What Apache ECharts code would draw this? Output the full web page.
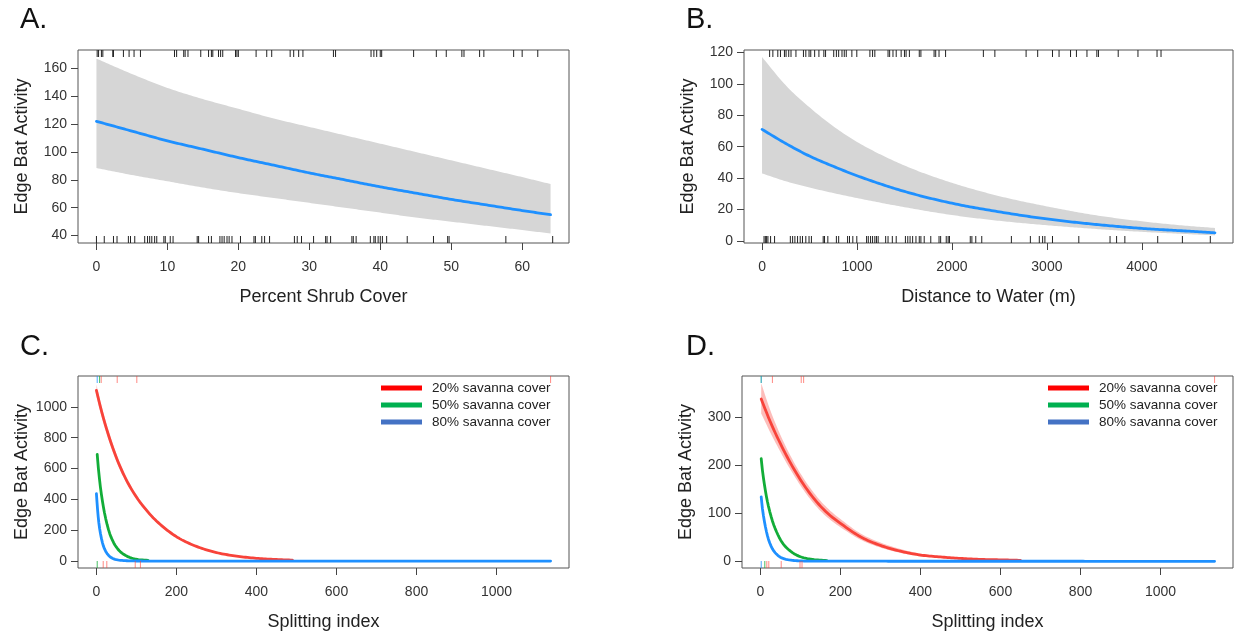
<!DOCTYPE html>
<html>
<head>
<meta charset="utf-8">
<script src="https://cdn.jsdelivr.net/npm/echarts@6/dist/echarts.min.js"></script>
<style>
html,body{margin:0;padding:0;background:#fff;}
#chart{width:1238px;height:638px;}
</style>
</head>
<body>
<div id="chart"></div>
<script>
// ---------- Panel A: Percent Shrub Cover ----------
const aX = [0,5,10,15,20,25,30,35,40,45,50,55,60,64];
const aFit = [122,115,108,102,96,90.5,85,80,75,70.5,66,62,58,55];
const aUpper = [167,156,146,138,131,124,118,112,106,100,94,88,82,77];
const aLower = [88.5,83.5,79,74.5,70.5,67,63.5,60,56.5,53,50,47,44,41.5];
const aRugTop = [0.1,0.3,0.7,0.9,2.3,2.4,3.8,4.6,5.3,6.2,11.0,11.3,12.3,12.5,12.9,14.7,15.8,16.2,16.4,17.2,17.5,17.8,19.6,19.8,20.0,22.5,24.0,24.7,27.3,27.8,28.5,29.1,33.4,33.7,38.7,39.1,39.5,40.0,40.2,44.7,47.9,49.3,51.5,51.8,54.0,54.6,58.8,60.0,62.2];
const aRugBottom = [0,1.1,2.4,2.9,4.5,4.8,5.4,6.8,7.2,7.5,7.8,8.2,8.5,9.5,9.7,10.4,10.8,14.2,14.4,15.8,16.2,17.4,17.7,18.0,18.4,18.7,19.1,20.3,22.2,22.4,23.3,23.7,24.4,27.9,28.3,28.9,30.6,32.3,32.5,33.0,36.0,36.2,36.6,38.6,39.1,39.3,39.7,40.0,40.3,40.9,43.8,47.5,49.5,49.7,57.7,64.3];
const aXTicks = [0,10,20,30,40,50,60];
const aYTicks = [40,60,80,100,120,140,160];

// ---------- Panel B: Distance to Water ----------
const bX = [0,250,500,750,1000,1500,2000,2500,3000,3500,4000,4500,4770];
const bFit = [71,62,54,47.5,41.5,31.5,24,18.5,14,10.6,8,6.2,5.2];
const bUpper = [117,99,85,73,63,48,37,28.5,22,16.5,12.5,9.5,8.3];
const bLower = [43,38,34,30.5,27.3,21.5,16.5,12.8,10,7.7,5.8,4.3,3.6];
const bRugTop = [80,114,166,194,236,253,281,305,357,436,461,495,513,554,599,651,669,755,783,807,842,866,887,946,998,1136,1164,1188,1327,1344,1379,1413,1465,1500,1517,1552,1656,1673,1812,1829,1864,1933,2331,2452,2781,2903,3059,3128,3249,3311,3422,3526,3543,3751,3959,4160,4202];
const bRugBottom = [21,35,48,62,90,132,298,322,346,374,402,426,461,495,520,644,658,693,783,807,901,921,956,998,1101,1119,1143,1164,1188,1205,1223,1302,1327,1372,1413,1510,1535,1559,1586,1621,1656,1673,1708,1777,1864,1881,1940,1960,1974,2193,2210,2251,2314,2626,2826,2920,2955,2979,3059,3336,3665,3734,3821,4167,4427,4721];
const bXTicks = [0,1000,2000,3000,4000];
const bYTicks = [0,20,40,60,80,100,120];

// ---------- Panel C: Splitting index (model 1) ----------
const cRedX = [0,10,25,50,75,100,125,150,200,250,300,350,400,450,490];
const cRed = [1107,1000,860,670,525,415,330,260,158,95,55,32,18,10,6];
const cRedUpper = [1145,1035,890,694,543,430,342,270,165,99,58,34,19.5,10.8,6.5];
const cRedLower = [1070,965,830,646,507,400,318,250,151,91,52,30,16.5,9.2,5.5];
const cGreenX = [2,5,10,15,20,30,40,50,60,80,100,129];
const cGreen = [692,600,480,390,315,205,135,90,60,27,12,4];
const cBlueX = [0,3,6,10,15,20,30,40,50,60,80,100,150,1135];
const cBlue = [437,330,250,180,120,80,38,18,9,5,1.5,0.5,0.1,0];
const cRugTopRed = [12,52,101,1135];
const cRugTopGreen = [8];
const cRugTopBlue = [2];
const cRugBottomRed = [17,26,97,110];
const cRugBottomGreen = [2];
const cXTicks = [0,200,400,600,800,1000];
const cYTicks = [0,200,400,600,800,1000];

// ---------- Panel D: Splitting index (model 2) ----------
const dRedX = [2,25,50,75,100,125,150,175,200,250,300,350,400,450,500,550,600,650];
const dRed = [338,290,245,205,170,140,115,95,79,51,33,21,13,9,6,4,3,2];
const dRedUpper = [371,314,263,220,183,152,126,105,88,58,39,25.5,16,11,7.6,5.2,3.8,2.7];
const dRedLower = [308,268,228,191,158,129,105,86,71,45,28.5,17.5,10.5,7.2,4.6,3,2.3,1.5];
const dGreenX = [2,5,10,15,20,30,40,50,60,80,100,130,166];
const dGreen = [214,190,160,135,115,84,62,45,33,18,9.5,4,1.5];
const dGreenUpper = [222,197,166,140,119,87,64,47,34.5,19,10,4.3,1.7];
const dGreenLower = [206,183,154,130,111,81,60,43,31.5,17,9,3.7,1.3];
const dBlueX = [2,5,10,15,20,30,40,50,60,80,100,150,1135];
const dBlue = [134,110,83,62,46,26,15,8.5,5,2,0.8,0.2,0];
const dRugTopRed = [30,102,108,1135];
const dRugTopGreen = [2];
const dRugTopBlue = [2];
const dRugBottomRed = [16,21,52,99,104];
const dRugBottomGreen = [11];
const dRugBottomBlue = [2];
const dXTicks = [0,200,400,600,800,1000];
const dYTicks = [0,100,200,300];

const seriesNames = ['20% savanna cover','50% savanna cover','80% savanna cover'];

// ---------- styling ----------
const FONT = '"Liberation Sans", Arial, sans-serif';
const FIT_BLUE = '#1e90ff';
const RED = '#f8433a';
const GREEN = '#12ad38';
const BAND_GRAY = '#d6d6d6';

// monotone cubic (Fritsch-Carlson) smoothing of projected pixel points, for drawing only
function smoothPixels(pts) {
  const n = pts.length;
  if (n < 3) return pts.slice();
  const m = [], t = new Array(n);
  for (let i = 0; i < n - 1; i++) {
    const dx = pts[i + 1][0] - pts[i][0];
    m.push(dx === 0 ? 0 : (pts[i + 1][1] - pts[i][1]) / dx);
  }
  t[0] = m[0]; t[n - 1] = m[n - 2];
  for (let i = 1; i < n - 1; i++) {
    t[i] = (m[i - 1] * m[i] <= 0) ? 0 : (m[i - 1] + m[i]) / 2;
  }
  for (let i = 0; i < n - 1; i++) {
    if (m[i] === 0) { t[i] = 0; t[i + 1] = 0; continue; }
    const a = t[i] / m[i], b = t[i + 1] / m[i];
    const s = a * a + b * b;
    if (s > 9) { const k = 3 / Math.sqrt(s); t[i] = k * a * m[i]; t[i + 1] = k * b * m[i]; }
  }
  const out = [];
  for (let i = 0; i < n - 1; i++) {
    const x0 = pts[i][0], y0 = pts[i][1], x1 = pts[i + 1][0], y1 = pts[i + 1][1];
    const h = x1 - x0;
    const steps = Math.max(2, Math.ceil(Math.abs(h) / 2));
    for (let s = 0; s < steps; s++) {
      const u = s / steps, u2 = u * u, u3 = u2 * u;
      const h00 = 2 * u3 - 3 * u2 + 1, h10 = u3 - 2 * u2 + u, h01 = -2 * u3 + 3 * u2, h11 = u3 - u2;
      out.push([x0 + u * h, h00 * y0 + h10 * h * t[i] + h01 * y1 + h11 * h * t[i + 1]]);
    }
  }
  out.push(pts[n - 1]);
  return out;
}

function xAx(gi, min, max, ticks, name) {
  return {
    type: 'value', gridIndex: gi, min: min, max: max, position: 'bottom',
    axisLine: { show: false, onZero: false }, splitLine: { show: false },
    axisTick: { show: true, length: 7, inside: false, customValues: ticks, lineStyle: { color: '#444' } },
    axisLabel: { customValues: ticks, margin: 17, fontSize: 14, color: '#333', fontFamily: FONT, formatter: v => String(v) },
    name: name, nameLocation: 'middle', nameGap: 45,
    nameTextStyle: { fontSize: 18, color: '#222', fontFamily: FONT }
  };
}
function yAx(gi, min, max, ticks) {
  return {
    type: 'value', gridIndex: gi, min: min, max: max, position: 'left',
    axisLine: { show: false, onZero: false }, splitLine: { show: false },
    axisTick: { show: true, length: 7, inside: false, customValues: ticks, lineStyle: { color: '#444' } },
    axisLabel: { customValues: ticks, margin: 11, fontSize: 14, color: '#333', fontFamily: FONT, formatter: v => String(v) },
    name: 'Edge Bat Activity', nameLocation: 'middle', nameGap: 47, nameRotate: 90,
    nameTextStyle: { fontSize: 18, color: '#222', fontFamily: FONT }
  };
}
function bandSeries(gi, xs, lower, upper, color) {
  return { type: 'custom', xAxisIndex: gi, yAxisIndex: gi, silent: true, z: 1,
    data: [[xs[0], lower[0]]], encode: { x: 0, y: 1 },
    renderItem: function (params, api) {
      const up = smoothPixels(xs.map((x, i) => api.coord([x, upper[i]])));
      const lo = smoothPixels(xs.map((x, i) => api.coord([x, lower[i]])));
      return { type: 'polygon', shape: { points: up.concat(lo.reverse()) },
        style: { fill: color, stroke: null } };
    } };
}
function fitSeries(gi, xs, ys, color, name) {
  return { type: 'custom', name: name, xAxisIndex: gi, yAxisIndex: gi, silent: true, z: 3,
    itemStyle: { color: color },
    data: [[xs[0], ys[0]]], encode: { x: 0, y: 1 },
    renderItem: function (params, api) {
      const pts = smoothPixels(xs.map((x, i) => api.coord([x, ys[i]])));
      return { type: 'polyline', shape: { points: pts },
        style: { stroke: color, lineWidth: 2.8, fill: null, lineJoin: 'round', lineCap: 'round' } };
    } };
}
function rugSeries(gi, xs, yBound, side, color) {
  return { type: 'custom', xAxisIndex: gi, yAxisIndex: gi, silent: true, clip: false, z: 4,
    data: xs.map(v => [v, yBound]), encode: { x: 0, y: 1 },
    renderItem: function (params, api) {
      const p = api.coord([api.value(0), yBound]);
      const dy = side === 'bottom' ? -7 : 7;
      return { type: 'line', shape: { x1: p[0], y1: p[1], x2: p[0], y2: p[1] + dy },
        style: { stroke: color, lineWidth: 1 } };
    } };
}
function legendFor(left) {
  return { orient: 'vertical', left: left, top: 376, itemWidth: 41, itemHeight: 5, icon: 'rect',
    itemGap: 3, selectedMode: false,
    textStyle: { fontSize: 13.5, color: '#222', fontFamily: FONT, padding: [0, 0, 0, 5] },
    data: [
      { name: seriesNames[0], itemStyle: { color: '#ff0000' } },
      { name: seriesNames[1], itemStyle: { color: '#00b050' } },
      { name: seriesNames[2], itemStyle: { color: '#4472c4' } }
    ] };
}

const A_Y = [34.7, 173.2], B_Y = [-1.3, 121.5], C_Y = [-45, 1200], D_Y = [-14, 386];

const option = {
  animation: false,
  backgroundColor: '#ffffff',
  textStyle: { fontFamily: FONT },
  grid: [
    { left: 78, top: 50, width: 491, height: 193, show: true, borderColor: '#555', borderWidth: 1, backgroundColor: 'transparent' },
    { left: 744, top: 50, width: 489, height: 193, show: true, borderColor: '#555', borderWidth: 1, backgroundColor: 'transparent' },
    { left: 78, top: 376, width: 491, height: 192, show: true, borderColor: '#555', borderWidth: 1, backgroundColor: 'transparent' },
    { left: 742, top: 376, width: 491, height: 192, show: true, borderColor: '#555', borderWidth: 1, backgroundColor: 'transparent' }
  ],
  xAxis: [
    xAx(0, -2.6, 66.6, aXTicks, 'Percent Shrub Cover'),
    xAx(1, -190, 4960, bXTicks, 'Distance to Water (m)'),
    xAx(2, -46, 1181, cXTicks, 'Splitting index'),
    xAx(3, -46, 1181, dXTicks, 'Splitting index')
  ],
  yAxis: [
    yAx(0, A_Y[0], A_Y[1], aYTicks),
    yAx(1, B_Y[0], B_Y[1], bYTicks),
    yAx(2, C_Y[0], C_Y[1], cYTicks),
    yAx(3, D_Y[0], D_Y[1], dYTicks)
  ],
  legend: [legendFor(376), legendFor(1043)],
  graphic: [
    { type: 'text', left: 20, top: 5, style: { text: 'A.', font: '29px ' + FONT, fill: '#111' } },
    { type: 'text', left: 686, top: 5, style: { text: 'B.', font: '29px ' + FONT, fill: '#111' } },
    { type: 'text', left: 20, top: 332, style: { text: 'C.', font: '29px ' + FONT, fill: '#111' } },
    { type: 'text', left: 686, top: 332, style: { text: 'D.', font: '29px ' + FONT, fill: '#111' } }
  ],
  series: [
    // A
    bandSeries(0, aX, aLower, aUpper, BAND_GRAY),
    fitSeries(0, aX, aFit, FIT_BLUE, 'fitA'),
    rugSeries(0, aRugTop, A_Y[1], 'top', '#222'),
    rugSeries(0, aRugBottom, A_Y[0], 'bottom', '#222'),
    // B
    bandSeries(1, bX, bLower, bUpper, BAND_GRAY),
    fitSeries(1, bX, bFit, FIT_BLUE, 'fitB'),
    rugSeries(1, bRugTop, B_Y[1], 'top', '#222'),
    rugSeries(1, bRugBottom, B_Y[0], 'bottom', '#222'),
    // C
    bandSeries(2, cRedX, cRedLower, cRedUpper, 'rgba(248,67,58,0.3)'),
    fitSeries(2, cRedX, cRed, RED, seriesNames[0]),
    fitSeries(2, cGreenX, cGreen, GREEN, seriesNames[1]),
    fitSeries(2, cBlueX, cBlue, FIT_BLUE, seriesNames[2]),
    rugSeries(2, cRugTopRed, C_Y[1], 'top', 'rgba(255,60,50,0.6)'),
    rugSeries(2, cRugTopGreen, C_Y[1], 'top', 'rgba(26,174,60,0.8)'),
    rugSeries(2, cRugTopBlue, C_Y[1], 'top', 'rgba(30,144,255,0.8)'),
    rugSeries(2, cRugBottomRed, C_Y[0], 'bottom', 'rgba(255,60,50,0.6)'),
    rugSeries(2, cRugBottomGreen, C_Y[0], 'bottom', 'rgba(26,174,60,0.8)'),
    // D
    bandSeries(3, dRedX, dRedLower, dRedUpper, 'rgba(248,67,58,0.35)'),
    bandSeries(3, dGreenX, dGreenLower, dGreenUpper, 'rgba(26,174,60,0.3)'),
    fitSeries(3, dRedX, dRed, RED, seriesNames[0]),
    fitSeries(3, dGreenX, dGreen, GREEN, seriesNames[1]),
    fitSeries(3, dBlueX, dBlue, FIT_BLUE, seriesNames[2]),
    rugSeries(3, dRugTopRed, D_Y[1], 'top', 'rgba(255,60,50,0.6)'),
    rugSeries(3, dRugTopGreen, D_Y[1], 'top', 'rgba(26,174,60,0.7)'),
    rugSeries(3, dRugTopBlue, D_Y[1], 'top', 'rgba(30,144,255,0.6)'),
    rugSeries(3, dRugBottomRed, D_Y[0], 'bottom', 'rgba(255,60,50,0.6)'),
    rugSeries(3, dRugBottomGreen, D_Y[0], 'bottom', 'rgba(26,174,60,0.8)'),
    rugSeries(3, dRugBottomBlue, D_Y[0], 'bottom', 'rgba(30,144,255,0.8)')
  ]
};

const chart = echarts.init(document.getElementById('chart'), null, { renderer: 'canvas' });
chart.setOption(option);
</script>
</body>
</html>
